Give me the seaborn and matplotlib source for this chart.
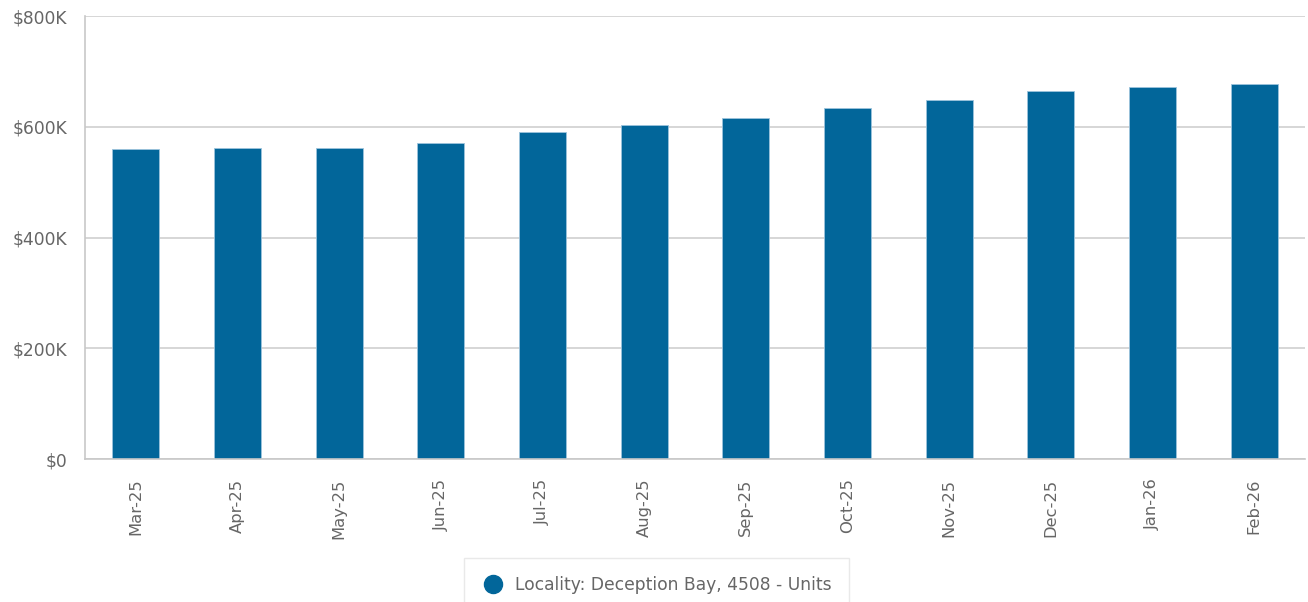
import pandas as pd
import matplotlib.pyplot as plt
import seaborn as sns
from matplotlib.ticker import FuncFormatter, MultipleLocator
from matplotlib.lines import Line2D

# Chart data
months = ["Mar-25", "Apr-25", "May-25", "Jun-25", "Jul-25", "Aug-25",
          "Sep-25", "Oct-25", "Nov-25", "Dec-25", "Jan-26", "Feb-26"]
values = [559000, 562000, 562000, 570000, 591000, 603000,
          615000, 633000, 648000, 665000, 671000, 677000]
series_name = "Locality: Deception Bay, 4508 - Units"

df = pd.DataFrame({"month": months, "value": values})

bar_color = "#02669a"
text_color = "#666666"
grid_color = "#d0d0d0"

sns.set_style("white")
plt.rcParams['font.family'] = ['DejaVu Sans']

fig = plt.figure(figsize=(13.08, 6.02), dpi=100)
ax = fig.add_axes([0.065, 0.2375, 0.9327, 0.7359])

sns.barplot(data=df, x="month", y="value", color=bar_color, width=0.46,
            edgecolor="#9cc3dc", linewidth=0.6, saturation=1, ax=ax)

ax.set_xlim(-0.5, len(months) - 0.5)
ax.set_ylim(0, 800000)
ax.yaxis.set_major_locator(MultipleLocator(200000))
ax.yaxis.set_minor_locator(MultipleLocator(40000))
ax.yaxis.set_major_formatter(FuncFormatter(
    lambda v, p: "$0" if v == 0 else f"${int(v / 1000)}K"))

ax.grid(axis="y", which="major", color=grid_color, linewidth=1.2)
ax.set_axisbelow(True)

for side in ["top", "right"]:
    ax.spines[side].set_visible(False)
for side in ["left", "bottom"]:
    ax.spines[side].set_color("#c8c8c8")
    ax.spines[side].set_linewidth(1.2)

ax.tick_params(axis="y", which="major", length=3.6, color=grid_color,
               labelcolor=text_color, labelsize=12.3, width=1.2, pad=9)
ax.tick_params(axis="y", which="minor", length=3.6, color="#c8c8c8", width=1)
ax.tick_params(axis="x", length=11, color="#c0d4e4", labelcolor=text_color,
               labelsize=11.8, rotation=90, width=1, pad=3)

ax.set_xlabel("")
ax.set_ylabel("")

handle = Line2D([], [], marker="o", linestyle="", markersize=13,
                markerfacecolor=bar_color, markeredgecolor=bar_color)
leg = fig.legend([handle], [series_name], loc="upper center",
                 bbox_to_anchor=(0.502, 1 - 558 / 602), frameon=True,
                 fontsize=12.3, handlelength=1.3, handletextpad=0.6,
                 borderpad=1.05, borderaxespad=0, fancybox=False,
                 labelcolor=text_color)
leg.get_frame().set_edgecolor("#e4e4e4")
leg.get_frame().set_linewidth(1)

fig.savefig("out.png", dpi=100)
